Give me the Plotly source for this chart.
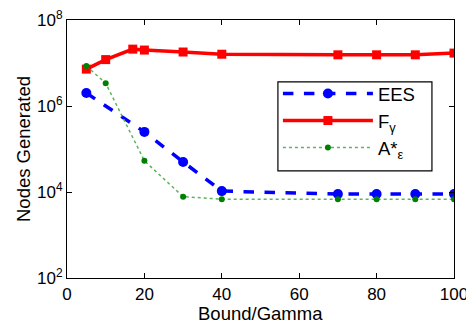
import plotly.graph_objects as go

ees_x = [5, 20, 30, 40, 70, 80, 90, 100]
ees_y = [2.0e6, 2.5e5, 5.0e4, 1.05e4, 9.0e3, 9.0e3, 9.0e3, 9.0e3]

fg_x = [5, 10, 17, 20, 30, 40, 70, 80, 90, 100]
fg_y = [7.2e6, 1.2e7, 2.1e7, 2.0e7, 1.8e7, 1.6e7, 1.55e7, 1.55e7, 1.55e7, 1.7e7]

ae_x = [5, 10, 20, 30, 40, 70, 80, 90, 100]
ae_y = [8.5e6, 3.4e6, 5.3e4, 7.8e3, 6.8e3, 6.8e3, 6.8e3, 6.8e3, 6.8e3]

y_tickvals = [1e2, 1e4, 1e6, 1e8]
y_ticktext = ["10<sup>2</sup>", "10<sup>4</sup>", "10<sup>6</sup>", "10<sup>8</sup>"]
x_tickvals = [0, 20, 40, 60, 80, 100]

FONT = "Liberation Sans, Arial, sans-serif"
FS = 17
FT = 18.5

fig = go.Figure()
fig.add_trace(go.Scatter(x=ees_x, y=ees_y, name="EES", mode="lines+markers",
                         line=dict(color="blue", width=3.5, dash="dash"),
                         marker=dict(symbol="circle", size=10, color="blue")))
fig.add_trace(go.Scatter(x=fg_x, y=fg_y, name="F<sub>γ</sub>", mode="lines+markers",
                         line=dict(color="red", width=3.5),
                         marker=dict(symbol="square", size=9, color="red")))
fig.add_trace(go.Scatter(x=ae_x, y=ae_y, name="A*<sub>ε</sub>", mode="lines+markers",
                         line=dict(color="rgb(90,180,90)", width=1.5, dash="dot"),
                         marker=dict(symbol="circle", size=6, color="green")))

axis_common = dict(showline=True, linecolor="black", linewidth=1.2, mirror="allticks",
                   ticks="inside", ticklen=5, tickcolor="black", showgrid=False, zeroline=False,
                   automargin=False, ticklabeloverflow="allow",
                   tickfont=dict(family=FONT, size=FS, color="black"))

fig.update_xaxes(range=[0, 100], tickmode="array", tickvals=x_tickvals, **axis_common)
fig.update_yaxes(type="log", range=[2, 8], tickmode="array", tickvals=y_tickvals, ticktext=y_ticktext,
                 **axis_common)

fig.add_annotation(text="Bound/Gamma", xref="paper", yref="paper", x=0.5, y=-0.136,
                   xanchor="center", yanchor="middle", showarrow=False,
                   font=dict(family=FONT, size=FT, color="black"))
fig.add_annotation(text="Nodes Generated", xref="paper", yref="paper", x=-0.1137, y=0.5,
                   xanchor="center", yanchor="middle", showarrow=False, textangle=-90,
                   font=dict(family=FONT, size=FT, color="black"))

# legend frame
fig.add_shape(type="rect", xref="paper", yref="paper", x0=0.545, x1=0.943, y0=0.415, y1=0.760,
              line=dict(color="black", width=1.2), fillcolor="white", layer="below")

fig.update_layout(
    template="none",
    width=466, height=316,
    margin=dict(l=59, r=20, t=12, b=46),
    plot_bgcolor="white", paper_bgcolor="white",
    font=dict(family=FONT, size=FS, color="black"),
    legend=dict(x=0.545, y=0.787, xanchor="left", yanchor="top",
                borderwidth=0, bgcolor="rgba(0,0,0,0)",
                font=dict(family=FONT, size=18.5, color="black"),
                itemwidth=90, tracegroupgap=0),
    showlegend=True,
)

fig.write_html("out.html")
